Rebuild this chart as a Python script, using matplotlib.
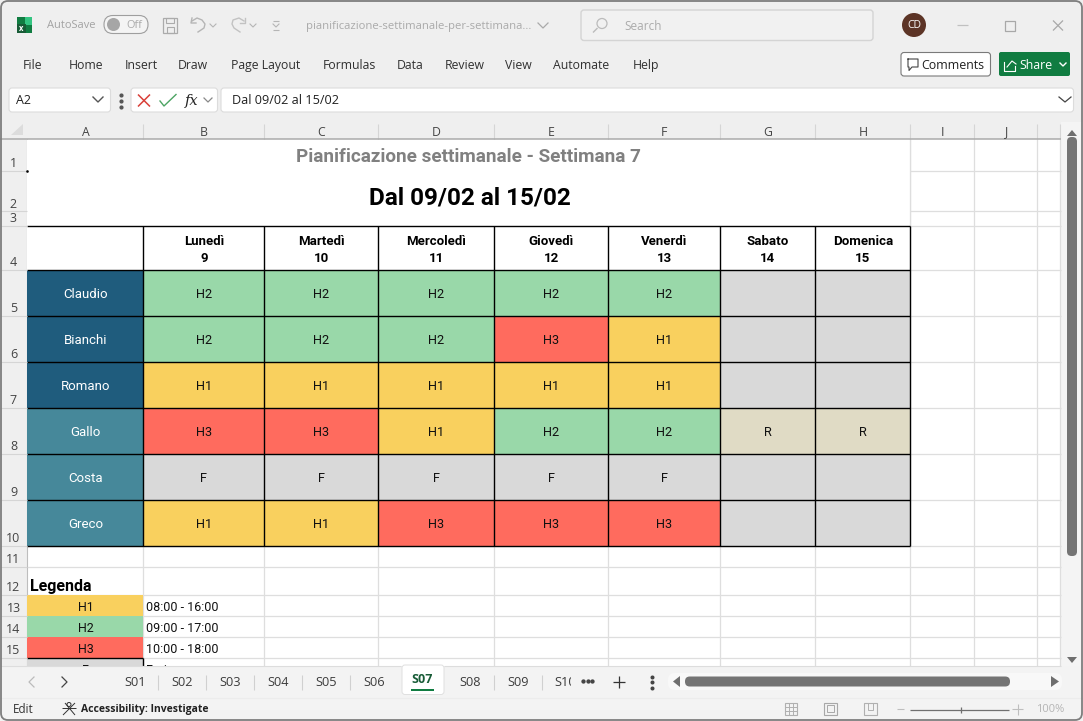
import matplotlib
matplotlib.use("Agg")
import matplotlib.pyplot as plt
from matplotlib.patches import Rectangle, FancyBboxPatch, Circle, Polygon

# ---------- data ----------
columns = ["A", "B", "C", "D", "E", "F", "G", "H", "I", "J"]
row_numbers = list(range(1, 16))
days = ["Lunedì", "Martedì", "Mercoledì", "Giovedì", "Venerdì", "Sabato", "Domenica"]
day_numbers = [9, 10, 11, 12, 13, 14, 15]
people = ["Claudio", "Bianchi", "Romano", "Gallo", "Costa", "Greco"]
shifts = [
    ["H2", "H2", "H2", "H2", "H2", "", ""],
    ["H2", "H2", "H2", "H3", "H1", "", ""],
    ["H1", "H1", "H1", "H1", "H1", "", ""],
    ["H3", "H3", "H1", "H2", "H2", "R", "R"],
    ["F", "F", "F", "F", "F", "", ""],
    ["H1", "H1", "H3", "H3", "H3", "", ""],
]
legend_codes = ["H1", "H2", "H3", "F"]
legend_hours = ["08:00 - 16:00", "09:00 - 17:00", "10:00 - 18:00", "Ferie"]
title_top = "Pianificazione settimanale - Settimana 7"
title_main = "Dal 09/02 al 15/02"
menu_items = ["File", "Home", "Insert", "Draw", "Page Layout", "Formulas", "Data",
              "Review", "View", "Automate", "Help"]
sheet_tabs = ["S01", "S02", "S03", "S04", "S05", "S06", "S07", "S08", "S09"]

# ---------- layout ----------
colors = {"H1": "#F9D05E", "H2": "#99D8A9", "H3": "#FF6B5E", "F": "#D9D9D9",
          "": "#D9D9D9", "R": "#E0DBC5"}
person_colors = ["#1F5C7D", "#1F5C7D", "#1F5C7D", "#46889A", "#46889A", "#46889A"]
X = [27, 142.5, 263.5, 377.5, 493.5, 607.5, 719.5, 814.5, 909.5, 974, 1037, 1060]
Y = [139, 170.5, 211, 225.5, 269.5, 315.5, 361.5, 407.5, 453.5, 499.5, 545.5,
     566.5, 594.5, 615.5, 636.5, 657.5, 666]
UI = "Open Sans"
CELL = "Roboto"
BG = "#EFEFEF"
GRID = "#DEDEDE"
DX = 0.9  # centred cell text sits slightly right of the column middle

fig = plt.figure(figsize=(10.83, 7.21), dpi=100, facecolor="#F4F4F4")
ax = fig.add_axes([0, 0, 1, 1])
ax.set_xlim(0, 1083)
ax.set_ylim(721, 0)
ax.axis("off")


def rect(x0, y0, x1, y1, fc, ec="none", lw=0, z=1):
    ax.add_patch(Rectangle((x0, y0), x1 - x0, y1 - y0, fc=fc, ec=ec, lw=lw, zorder=z))


def line(xs, ys, c="#000000", lw=1.0, z=3):
    ax.plot(xs, ys, color=c, lw=lw, zorder=z, solid_capstyle="butt")


def txt(x, y, s, size=8.3, c="#222222", fam=UI, w="normal", ha="center", z=6, **kw):
    return ax.text(x, y + 2, s, fontsize=size, color=c, family=fam, weight=w, ha=ha,
                   va="center", zorder=z, **kw)


def rbox(x0, y0, x1, y1, fc, ec="none", lw=0.8, r=3, z=2):
    ax.add_patch(FancyBboxPatch((x0 + r, y0 + r), x1 - x0 - 2 * r, y1 - y0 - 2 * r,
                                boxstyle=f"round,pad={r},rounding_size={r}",
                                fc=fc, ec=ec, lw=lw, zorder=z))


# window chrome backgrounds
rect(0, 0, 1083, 131, BG)
rect(0, 122, 1083, 139, BG)
rect(0, 139, 27, 666, BG)
rect(1061, 122, 1083, 666, "#F4F4F4")
rect(0, 666, 1083, 698, "#F3F3F3")
rect(0, 698, 1083, 721, "#F3F3F3")

# grid area
rect(27, 139, 1061, 666, "#FFFFFF", z=0.5)
for x in X[1:]:
    line([x, x], [139, 666], GRID, 0.9, z=1)
for y in Y[1:-1]:
    line([27, 1061], [y, y], GRID, 0.9, z=1)

# merged title area
rect(27, 139.5, X[8], Y[3], "#FFFFFF", z=1.5)
line([X[8], X[8]], [139, Y[3]], GRID, 0.9, z=2)
txt(468, 154.5, title_top, 13.6, "#808080", CELL, "bold")
txt(470, 195.5, title_main, 17.5, "#000000", CELL, "bold")
ax.plot([27], [171], marker="s", ms=0.8, color="#000000", zorder=7)

# header row
rect(27, Y[3], X[8], Y[4], "#FFFFFF", z=1.5)
for j, (d, n) in enumerate(zip(days, day_numbers)):
    xc = (X[j + 1] + X[j + 2]) / 2 + DX
    txt(xc, 239.5, d, 9.5, "#000000", CELL, "bold")
    txt(xc, 256.5, str(n), 9.5, "#000000", CELL, "bold")

# schedule
for i, name in enumerate(people):
    y0, y1 = Y[4 + i], Y[5 + i]
    rect(X[0], y0, X[1], y1, person_colors[i], z=2)
    txt((X[0] + X[1]) / 2 + DX, (y0 + y1) / 2 - 0.5, name, 9.5, "#FFFFFF", CELL)
    for j, code in enumerate(shifts[i]):
        rect(X[j + 1], y0, X[j + 2], y1, colors[code], z=2)
        if code:
            txt((X[j + 1] + X[j + 2]) / 2 + DX, (y0 + y1) / 2 - 0.5, code, 9.2, "#111111", CELL)
for x in X[1:9]:
    line([x, x], [Y[3], Y[10]], lw=1.0)
for y in Y[3:11]:
    line([X[0], X[8]], [y, y], lw=1.0)

# legend
txt(30, 584, "Legenda", 11.5, "#000000", CELL, "bold", ha="left")
for i, (c, h) in enumerate(zip(legend_codes, legend_hours)):
    y0, y1 = Y[12 + i], Y[13 + i]
    rect(X[0], y0, X[1], y1, colors[c], z=2)
    if i < 3:
        txt((X[0] + X[1]) / 2 + DX, (y0 + y1) / 2 + 0.5, c, 9.0, "#111111", CELL)
        txt(146, (y0 + y1) / 2 + 0.5, h, 9.0, "#111111", CELL, ha="left")
line([X[0], X[1] + 0.5], [Y[15], Y[15]], lw=1.0)
line([X[1], X[1]], [Y[15], 666], lw=1.0)
clip = Rectangle((27, 139), 1034, 527, transform=ax.transData)
for tx, s, ha in ((85, "F", "center"), (146, legend_hours[3], "left")):
    t = txt(tx, 668, s, 9.0, "#111111", CELL, ha=ha)
    t.set_clip_path(clip)
    t.set_clip_on(True)

# column and row headers
line([0, 1061], [139, 139], "#ABABAB", 1.1, z=4)
line([27, 27], [139, 666], "#BDBDBD", 0.8, z=1)
for x in X[1:]:
    line([x, x], [124, 139], "#D5D5D5", 0.8)
for k, c in enumerate(columns):
    txt((X[k] + X[k + 1]) / 2 + DX, 130, c, 8.8, "#444444")
ax.add_patch(Polygon([[11, 135], [23, 135], [23, 124]], fc="#DCDCDC", ec="none", zorder=3))
for k, r in enumerate(row_numbers):
    y1 = Y[k + 1]
    line([0, 27], [y1, y1], "#D5D5D5", 0.8)
    txt(13.5, y1 - 9, str(r), 9.0, "#444444")

# title bar
rect(17, 17, 32, 33, "#107C41", z=3)
rect(25, 17, 32, 25, "#33C481", z=3.1)
rect(17, 24, 26, 33, "#185C37", z=3.2)
txt(21.5, 26.5, "x", 5.5, "#FFFFFF", w="bold")
txt(71.5, 24, "AutoSave", 8.0, "#A3A3A3")
rbox(104, 15.5, 148, 33.5, "#F4F4F4", "#9E9E9E", 0.8, r=8.9)
ax.add_patch(Circle((113.5, 24.5), 6.5, fc="#A6A6A6", ec="none", zorder=4))
txt(134.5, 24, "Off", 7.8, "#AAAAAA")
rect(163, 18, 177, 33, "none", "#ABABAB", 0.9, z=3)
rect(166, 18, 174, 23, "none", "#ABABAB", 0.8, z=3)
rect(166.5, 27, 173.5, 33, "none", "#ABABAB", 0.8, z=3)
ax.plot([192, 197, 202, 205, 204, 198], [21, 18, 20, 24, 28, 32], color="#B5B5B5", lw=1, zorder=3)
ax.plot([192, 191, 196], [18, 23, 23], color="#B5B5B5", lw=1, zorder=3)
ax.plot([244, 239, 233, 232, 234, 240], [21, 18, 20, 24, 28, 32], color="#C2C2C2", lw=1, zorder=3)
ax.plot([245, 245, 240], [18, 23, 23], color="#C2C2C2", lw=1, zorder=3)
for cx in (213, 253):
    ax.plot([cx - 3, cx, cx + 3], [24, 27, 24], color="#B5B5B5", lw=0.8, zorder=3)
ax.plot([273, 276, 279], [24, 27, 24], color="#B5B5B5", lw=0.8, zorder=3)
line([273, 279], [21, 21], "#B5B5B5", 0.8)
line([273, 279], [29.5, 29.5], "#B5B5B5", 0.8)
txt(306, 24.5, "pianificazione-settimanale-per-settimana...", 8.1, "#AAAAAA", ha="left")
ax.plot([538, 543, 548], [23, 28, 23], color="#AAAAAA", lw=0.9, zorder=3)
rbox(581, 10, 873, 40.5, "#F1F1F1", "#D4D4D4", 1.0, r=3)
ax.add_patch(Circle((602, 23.5), 5, fc="none", ec="#BBBBBB", lw=0.9, zorder=4))
line([597.5, 593], [28, 32.5], "#BBBBBB", 1.0, z=4)
txt(624, 24, "Search", 8.5, "#ABABAB", ha="left")
ax.add_patch(Circle((914, 25), 12, fc="#5C3426", ec="none", zorder=4))
txt(914, 23.5, "CD", 7.5, "#FFFFFF")
line([957, 968], [25, 25], "#C0C0C0", 0.9)
rect(1005, 20.5, 1015, 30.5, "none", "#A8A8A8", 0.9, z=3)
line([1053, 1063], [20.5, 30.5], "#A8A8A8", 0.9)
line([1053, 1063], [30.5, 20.5], "#A8A8A8", 0.9)

# ribbon menu
menu_x = [32.5, 86, 141, 193, 265.5, 349.5, 410.5, 465, 518.5, 581.5, 645.5]
for s, x in zip(menu_items, menu_x):
    ax.text(x, 69, s, fontsize=8.8, color="#303030", family=UI, ha="center",
            va="baseline", zorder=6)
rbox(901, 52.5, 990.5, 76, "#FFFFFF", "#7A7A7A", 0.8, r=3)
ax.plot([908, 918, 918, 912, 909, 909, 908, 908],
        [59, 59, 67, 67, 70.5, 67, 67, 59], color="#444444", lw=0.8, zorder=4)
txt(953, 63.5, "Comments", 8.9, "#202020")
rbox(999, 52, 1070, 76, "#107C41", r=2)
ax.plot([1004, 1004, 1015, 1015], [62, 71, 71, 66], color="#FFFFFF", lw=0.8, zorder=4)
ax.plot([1007, 1012, 1016], [67, 61, 64], color="#FFFFFF", lw=0.8, zorder=4)
txt(1036, 63.5, "Share", 8.9, "#FFFFFF")
ax.plot([1060, 1063, 1066], [63, 66, 63], color="#FFFFFF", lw=1.0, zorder=4)

# formula bar
rbox(9, 88, 110.5, 112, "#FFFFFF", "#DCDCDC", 0.8, r=3)
txt(16, 99, "A2", 9.0, "#202020", ha="left")
ax.plot([93, 98, 103], [97, 102, 97], color="#555555", lw=1, zorder=4)
for yy in (94, 100, 106):
    ax.plot([120.5], [yy + 0.5], marker="o", ms=2, color="#555555", zorder=4)
rbox(131, 88, 217.5, 112, "#FFFFFF", "#DCDCDC", 0.8, r=3)
line([138, 150], [94.5, 106.5], "#D9403A", 1.1, z=4)
line([138, 150], [106.5, 94.5], "#D9403A", 1.1, z=4)
ax.plot([160, 164, 176], [101, 106, 94.5], color="#4CA463", lw=1.0, zorder=4)
txt(192, 98.5, "fx", 10.5, "#222222", "DejaVu Serif", style="italic")
ax.plot([204, 208, 212], [98, 102, 98], color="#888888", lw=0.9, zorder=4)
rbox(221, 88, 1073.5, 112, "#FFFFFF", "#DCDCDC", 0.8, r=3)
txt(232, 99, title_main, 9.1, "#202020", ha="left")
ax.plot([1059, 1065, 1071], [97, 102, 97], color="#444444", lw=0.9, zorder=4)

# vertical scrollbar
ax.add_patch(Polygon([[1067, 136], [1077, 136], [1072, 130]], fc="#6E6E6E", ec="none", zorder=4))
rbox(1067, 137, 1077, 556, "#747474", r=4.5)
ax.add_patch(Polygon([[1067, 657], [1077, 657], [1072, 663]], fc="#6E6E6E", ec="none", zorder=4))

# sheet tabs
line([0, 401], [666, 666], "#DDDDDD", 0.8, z=4)
line([444, 1061], [666, 666], "#DDDDDD", 0.8, z=4)
ax.plot([34, 29, 34], [677, 682, 687], color="#BBBBBB", lw=0.9, zorder=4)
ax.plot([62, 67, 62], [677, 682, 687], color="#444444", lw=0.9, zorder=4)
rbox(402, 665, 444, 694.5, "#FFFFFF", "#E0E0E0", 0.7, r=3, z=3)
tab_x = [135, 182, 230, 278, 326, 374, 422, 470, 518]
tab_seps = [158, 206, 254, 302, 350, 398, 446, 494, 542]
for s, x, sep in zip(sheet_tabs, tab_x, tab_seps):
    if s == "S07":
        txt(x, 677.5, s, 9.0, "#185C37", w="bold")
    else:
        txt(x, 680.5, s, 9.2, "#3C3C3C")
    if s not in ("S06", "S07"):
        line([sep, sep], [675, 690], "#D0D0D0", 0.8)
rect(411, 689, 434, 691, "#107C41", z=5)
s10 = txt(554, 680.5, "S10", 9.2, "#3C3C3C", ha="left")
s10.set_clip_path(Rectangle((540, 670), 31, 20, transform=ax.transData))
s10.set_clip_on(True)
for xx in (583, 587.5, 592):
    ax.plot([xx], [681], marker="o", ms=2.1, color="#444444", zorder=5)
line([613, 625], [681.5, 681.5], "#333333", 0.9)
line([619, 619], [675.5, 687.5], "#333333", 0.9)
for yy in (676.5, 682, 687.5):
    ax.plot([652], [yy], marker="o", ms=1.9, color="#444444", zorder=5)

# horizontal scrollbar
rbox(668, 673, 1062, 690, "#F8F8F8", r=7)
ax.add_patch(Polygon([[680, 676], [680, 687], [673, 681.5]], fc="#6E6E6E", ec="none", zorder=5))
rbox(685, 676.5, 1010, 686.5, "#747474", r=4.8, z=5)
ax.add_patch(Polygon([[1051, 676], [1051, 687], [1059, 681.5]], fc="#6E6E6E", ec="none", zorder=5))

# status bar
line([0, 1083], [698, 698], "#ECECEC", 0.8)
txt(23, 707.5, "Edit", 8.4, "#333333")
ax.add_patch(Circle((69, 704.5), 2, fc="none", ec="#333333", lw=0.7, zorder=4))
line([62, 76], [708, 708], "#333333", 0.7)
line([63, 75], [715, 703], "#333333", 0.7)
line([65, 75], [703, 715], "#333333", 0.7)
txt(81, 707.5, "Accessibility: Investigate", 7.5, "#222222", w="bold", ha="left")
rect(784.5, 702.5, 796.5, 714.5, "none", "#B0B0B0", 0.8, z=4)
for a in (788.5, 792.5):
    line([a, a], [702.5, 714.5], "#B0B0B0", 0.7, z=4)
for b in (706.5, 710.5):
    line([784.5, 796.5], [b, b], "#B0B0B0", 0.7, z=4)
rect(824, 702.5, 837, 714.5, "none", "#A8A8A8", 0.8, z=4)
rect(827, 705, 834, 712, "none", "#A8A8A8", 0.7, z=4)
rect(864, 702.5, 877, 714.5, "none", "#B0B0B0", 0.8, z=4)
rect(867.5, 702.5, 873, 710, "none", "#B0B0B0", 0.7, z=4)
line([897, 904], [709, 709], "#BEBEBE", 0.8)
line([910, 1009], [709.5, 709.5], "#707070", 0.9)
line([960.5, 960.5], [706.5, 712.5], "#707070", 0.9)
line([1012, 1023], [709, 709], "#BEBEBE", 0.8)
line([1017.5, 1017.5], [703.5, 714.5], "#BEBEBE", 0.8)
txt(1050, 707.5, "100%", 8.0, "#B5B5B5")

# window border
ax.add_patch(FancyBboxPatch((8, 8), 1067, 705, boxstyle="round,pad=7,rounding_size=7",
                            fc="none", ec="#7E7E7E", lw=1.3, zorder=9))

fig.savefig("out.png", dpi=100, facecolor=fig.get_facecolor())
